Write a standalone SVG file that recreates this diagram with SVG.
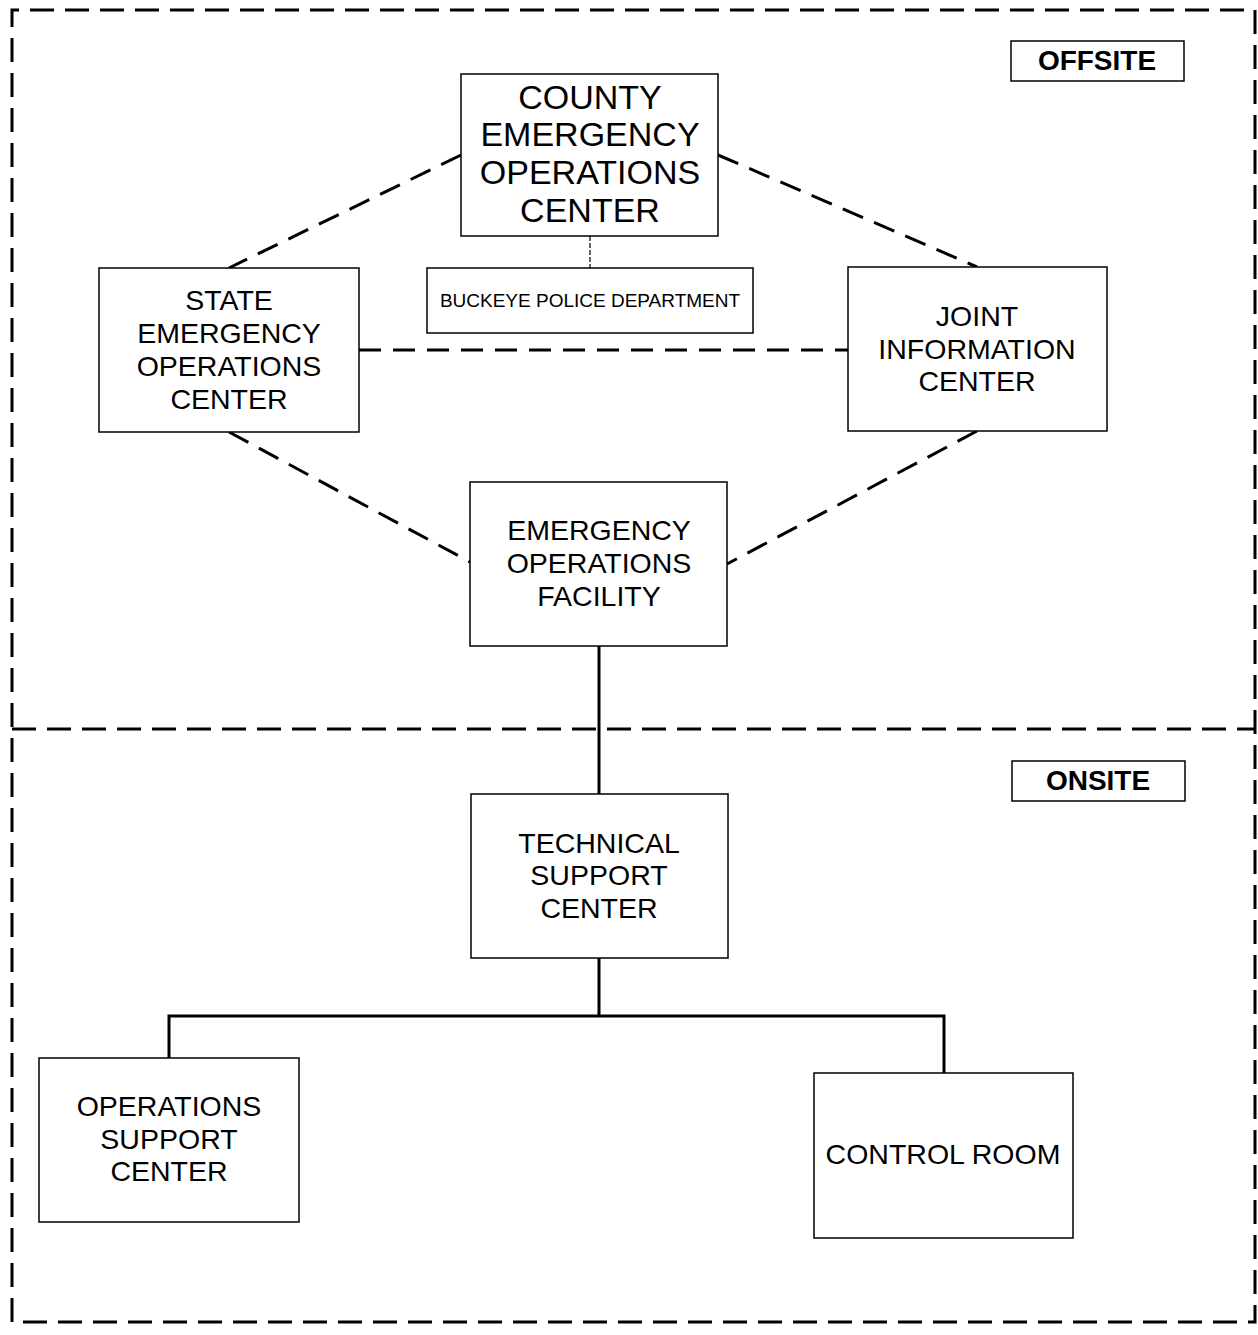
<svg xmlns="http://www.w3.org/2000/svg" width="1258" height="1335" viewBox="0 0 1258 1335">
<style>
.box{fill:#fff;stroke:#000;stroke-width:1.5}
.t{font-family:"Liberation Sans",Arial,sans-serif;fill:#000;text-anchor:middle}
.big{font-size:28.5px}
.huge{font-size:34px}
.lbl{font-size:28px;font-weight:bold}
.border{fill:none;stroke:#000;stroke-width:3;stroke-dasharray:24 11}
.dash{fill:none;stroke:#000;stroke-width:3;stroke-dasharray:22 12}
.solid{fill:none;stroke:#000;stroke-width:3}
</style>
<rect width="1258" height="1335" fill="#fff"/>
<g id="boundaries">
<path class="border" d="M12 1322 L12 10 L1255 10 L1255 1322 L12 1322"/>
<path class="border" d="M12 729 L1255 729"/>
</g>
<g id="connectors">
<path class="dash" d="M461 155 L229 268"/>
<path class="dash" d="M718 155 L977 267"/>
<path class="dash" d="M359 350 L848 350"/>
<path class="dash" d="M229 432 L470 562"/>
<path class="dash" d="M977 431 L727 564"/>
<path fill="none" stroke="#000" stroke-width="1.2" stroke-dasharray="5 2" d="M590 236 L590 268"/>
<path class="solid" d="M599 646 L599 794"/>
<path class="solid" d="M599 958 L599 1016 M169 1058 L169 1016 L944 1016 L944 1073"/>
</g>
<g id="offsite-label">
<rect class="box" x="1011" y="41" width="173" height="40"/>
<text class="t lbl" x="1097" y="70">OFFSITE</text>
</g>
<g id="onsite-label">
<rect class="box" x="1012" y="761" width="173" height="40"/>
<text class="t lbl" x="1098" y="790">ONSITE</text>
</g>
<g id="county-eoc">
<rect class="box" x="461" y="74" width="257" height="162"/>
<text class="t huge" x="590" y="109">COUNTY</text>
<text class="t huge" x="590" y="146">EMERGENCY</text>
<text class="t huge" x="590" y="184">OPERATIONS</text>
<text class="t huge" x="590" y="222">CENTER</text>
</g>
<g id="buckeye-pd">
<rect class="box" x="427" y="268" width="326" height="65"/>
<text class="t" font-size="19" x="590" y="307">BUCKEYE POLICE DEPARTMENT</text>
</g>
<g id="state-eoc">
<rect class="box" x="99" y="268" width="260" height="164"/>
<text class="t big" x="229" y="310">STATE</text>
<text class="t big" x="229" y="343">EMERGENCY</text>
<text class="t big" x="229" y="376">OPERATIONS</text>
<text class="t big" x="229" y="409">CENTER</text>
</g>
<g id="jic">
<rect class="box" x="848" y="267" width="259" height="164"/>
<text class="t big" x="977" y="326">JOINT</text>
<text class="t big" x="977" y="359">INFORMATION</text>
<text class="t big" x="977" y="391">CENTER</text>
</g>
<g id="eof">
<rect class="box" x="470" y="482" width="257" height="164"/>
<text class="t big" x="599" y="540">EMERGENCY</text>
<text class="t big" x="599" y="573">OPERATIONS</text>
<text class="t big" x="599" y="606">FACILITY</text>
</g>
<g id="tsc">
<rect class="box" x="471" y="794" width="257" height="164"/>
<text class="t big" x="599" y="853">TECHNICAL</text>
<text class="t big" x="599" y="885">SUPPORT</text>
<text class="t big" x="599" y="918">CENTER</text>
</g>
<g id="osc">
<rect class="box" x="39" y="1058" width="260" height="164"/>
<text class="t big" x="169" y="1116">OPERATIONS</text>
<text class="t big" x="169" y="1149">SUPPORT</text>
<text class="t big" x="169" y="1181">CENTER</text>
</g>
<g id="control-room">
<rect class="box" x="814" y="1073" width="259" height="165"/>
<text class="t big" x="943" y="1164">CONTROL ROOM</text>
</g>
</svg>
